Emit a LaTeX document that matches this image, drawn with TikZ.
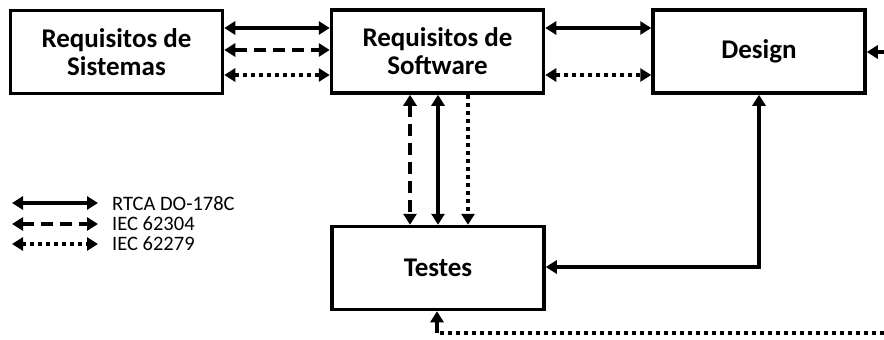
\documentclass[tikz,border=0pt]{standalone}
\usepackage{fontspec}
\setmainfont{Carlito}
\usetikzlibrary{arrows.meta}
\begin{document}
\begin{tikzpicture}[x=1pt,y=-1pt,
  box/.style={draw,line width=3.5pt,rectangle,minimum width=212pt,minimum height=83pt,
    align=center,font=\fontsize{27}{28}\selectfont\bfseries,inner sep=0pt},
  con/.style={line width=3.5pt,-{Triangle[length=11pt,width=13pt]}},
  bicon/.style={line width=3.5pt,{Triangle[length=11pt,width=13pt]}-{Triangle[length=11pt,width=13pt]}},
  dsh/.style={dash pattern=on 12pt off 7pt},
  dts/.style={dash pattern=on 4pt off 4pt},
  leg/.style={anchor=west,font=\fontsize{20.5}{22}\selectfont,inner sep=0pt}]
\useasboundingbox (0,0) rectangle (884,340);
\node[box] (sys) at (116.5,52) {Requisitos de\\Sistemas};
\node[box] (sw) at (437.5,51.5) {Requisitos de\\Software};
\node[box] (des) at (759,51.5) {Design};
\node[box] (tst) at (438,268) {Testes};
% between systems and software
\draw[bicon] (sys.east |- 0,28) -- (sw.west |- 0,28);
\draw[bicon,dsh] (sys.east |- 0,50) -- (sw.west |- 0,50);
\draw[bicon,dts] (sys.east |- 0,75) -- (sw.west |- 0,75);
% between software and design
\draw[bicon] (sw.east |- 0,28) -- (des.west |- 0,28);
\draw[bicon,dts] (sw.east |- 0,75) -- (des.west |- 0,75);
% right input to design
\coordinate (rin) at (884,52);
\draw[con] (rin) -- (des.east |- rin);
% software - tests
\draw[bicon,dsh] (sw.south -| 410,0) -- (tst.north -| 410,0);
\draw[bicon] (sw.south -| 438,0) -- (tst.north -| 438,0);
\draw[con,dts] (sw.south -| 468,0) -- (tst.north -| 468,0);
% design - tests
\draw[bicon] (tst.east |- 0,267) -| (des.south);
% bottom dotted
\coordinate (bin) at (884,333);
\coordinate (bc) at (437,333);
\draw[line width=3.5pt,dts] (bin) -- (bc);
\draw[con] (bc) -- (tst.south -| bc);
% legend
\coordinate (l1a) at (12,203); \coordinate (l1b) at (98,203);
\coordinate (l2a) at (12,224); \coordinate (l2b) at (98,224);
\coordinate (l3a) at (12,244); \coordinate (l3b) at (98,244);
\draw[bicon] (l1a) -- (l1b);
\draw[bicon,dsh] (l2a) -- (l2b);
\draw[bicon,dts] (l3a) -- (l3b);
\node[leg] (t1) at (112,204) {RTCA DO-178C};
\node[leg] (t2) at (112,224) {IEC 62304};
\node[leg] (t3) at (112,244) {IEC 62279};
\end{tikzpicture}
\end{document}
